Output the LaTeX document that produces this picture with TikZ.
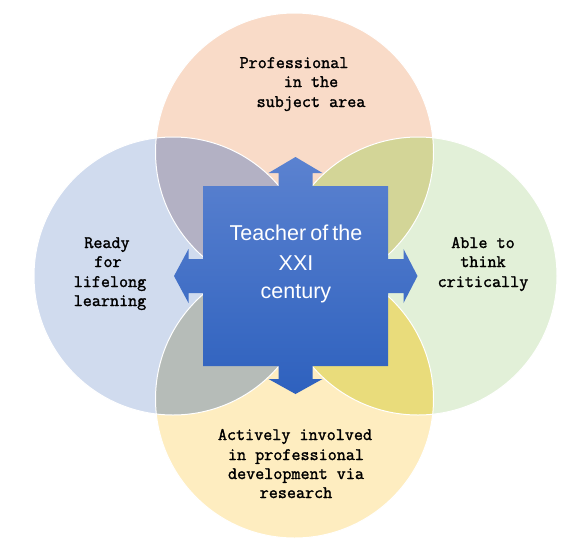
\documentclass[tikz,border=0pt]{standalone}
\usepackage{fontspec}
\setmainfont{Liberation Sans}
\newfontfamily\labelfont{Latin Modern Mono}[FakeBold=1.6]
\newfontfamily\centerfont{Liberation Sans}[WordSpace=0.7]
\definecolor{ctop}{HTML}{F9DBC8}
\definecolor{cleft}{HTML}{D0DBEE}
\definecolor{cright}{HTML}{E2F0D8}
\definecolor{cbottom}{HTML}{FEEDC0}
\definecolor{otl}{HTML}{B3B1C4}
\definecolor{otr}{HTML}{D3D597}
\definecolor{obl}{HTML}{B6BCB8}
\definecolor{obr}{HTML}{E9DC7B}
\definecolor{bluetop}{HTML}{5B82D0}
\definecolor{bluebot}{HTML}{2E61BE}
\tikzset{
  lbl/.style={anchor=base, inner sep=0pt, font=\labelfont\fontsize{17.6}{19}\selectfont, text=black},
  ctr/.style={anchor=base, inner sep=0pt, font=\centerfont\fontsize{21.5}{29}\selectfont, text=white},
  ring/.style={draw=white, line width=1pt}
}
\begin{document}
\begin{tikzpicture}[x=1pt,y=-1pt]
\useasboundingbox (0,0) rectangle (587,539);
\def\R{139}
\coordinate (T) at (294.5,152);
\coordinate (B) at (294.5,399);
\coordinate (L) at (173,276);
\coordinate (Rt) at (418,276);
% base circles
\fill[ctop] (T) circle (\R);
\fill[cleft] (L) circle (\R);
\fill[cright] (Rt) circle (\R);
\fill[cbottom] (B) circle (\R);
% overlaps
\begin{scope}\clip (T) circle (\R); \fill[otl] (L) circle (\R); \end{scope}
\begin{scope}\clip (T) circle (\R); \fill[otr] (Rt) circle (\R); \end{scope}
\begin{scope}\clip (B) circle (\R); \fill[obl] (L) circle (\R); \end{scope}
\begin{scope}\clip (B) circle (\R); \fill[obr] (Rt) circle (\R); \end{scope}
% outlines
\draw[ring] (T) circle (\R);
\draw[ring] (L) circle (\R);
\draw[ring] (Rt) circle (\R);
\draw[ring] (B) circle (\R);
% central cross with arrows
\begin{scope}[shift={(295.5,276)}]
\shade[top color=bluetop, bottom color=bluebot]
  (0,-119) -- (27,-103) -- (17,-103) -- (17,-90) -- (92.5,-90) -- (92.5,-17)
  -- (108,-17) -- (108,-27) -- (122,0) -- (108,27) -- (108,17) -- (92.5,17)
  -- (92.5,90) -- (17,90) -- (17,103) -- (27,103) -- (0,118) -- (-27,103)
  -- (-17,103) -- (-17,90) -- (-92.5,90) -- (-92.5,17) -- (-107,17)
  -- (-107,27) -- (-121.5,0) -- (-107,-27) -- (-107,-17) -- (-92.5,-17)
  -- (-92.5,-90) -- (-17,-90) -- (-17,-103) -- (-27,-103) -- cycle;
\end{scope}
% center text
\node[ctr] (c1) at (296,240) {Teacher of the};
\node[ctr] (c2) at (296,270) {XXI};
\node[ctr] (c3) at (296,298) {century};
% top label
\node[lbl] (t1) at (294,68) {Professional};
\node[lbl] (t2) at (311,87) {in the};
\node[lbl] (t3) at (311,107) {subject area};
% left label
\node[lbl] (l1) at (107,248) {Ready};
\node[lbl] (l2) at (108,267) {for};
\node[lbl] (l3) at (110,287) {lifelong};
\node[lbl] (l4) at (110,306) {learning};
% right label
\node[lbl] (r1) at (483,248) {Able to};
\node[lbl] (r2) at (483,267) {think};
\node[lbl] (r3) at (483,287) {critically};
% bottom label
\node[lbl] (b1) at (295,440) {Actively involved};
\node[lbl] (b2) at (296,460) {in professional};
\node[lbl] (b3) at (296,479) {development via};
\node[lbl] (b4) at (296,498) {research};
\end{tikzpicture}
\end{document}
